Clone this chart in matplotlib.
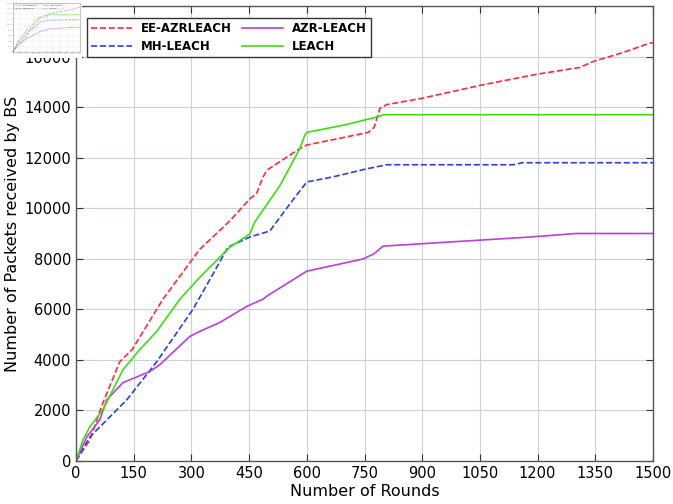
import matplotlib
matplotlib.use("Agg")
import matplotlib.pyplot as plt
from matplotlib.patches import Rectangle

ee_rounds = [0, 36, 70, 114, 146, 226, 322, 400, 452, 470, 485, 496, 582, 600, 680, 760, 775, 790, 808, 900, 1050, 1198, 1310, 1344, 1420, 1492, 1500]
ee_packets = [0, 830, 2300, 3930, 4410, 6400, 8380, 9500, 10370, 10600, 11200, 11500, 12360, 12500, 12750, 13000, 13200, 13950, 14100, 14350, 14860, 15300, 15570, 15800, 16150, 16530, 16550]

mh_rounds = [0, 36, 132, 210, 304, 360, 395, 452, 504, 556, 600, 668, 756, 808, 1136, 1160, 1500]
mh_packets = [0, 950, 2420, 3930, 6000, 7500, 8460, 8860, 9100, 10170, 11040, 11240, 11560, 11720, 11720, 11800, 11800]

azr_rounds = [0, 28, 62, 80, 122, 192, 218, 296, 322, 374, 444, 486, 496, 600, 746, 775, 798, 1180, 1300, 1500]
azr_packets = [0, 950, 1630, 2420, 3100, 3540, 3810, 4930, 5130, 5480, 6120, 6400, 6520, 7510, 7990, 8200, 8500, 8860, 9000, 9000]

leach_rounds = [0, 18, 36, 70, 122, 166, 210, 270, 322, 400, 452, 465, 530, 582, 595, 600, 700, 780, 800, 1500]
leach_packets = [0, 830, 1350, 2030, 3610, 4410, 5130, 6400, 7270, 8460, 8980, 9460, 10890, 12360, 12900, 13000, 13300, 13600, 13700, 13700]

x_ticks = list(range(0, 1501, 150))
y_ticks = list(range(0, 18001, 2000))

RED = "#ff2a3c"
BLUE = "#2b3fe6"
PURPLE = "#b83fe0"
GREEN = "#3fdc12"


def draw_curves(ax, lw, alpha=1.0):
    ax.plot(ee_rounds, ee_packets, "--", color=RED, lw=lw, alpha=alpha, label="EE-AZRLEACH")
    ax.plot(mh_rounds, mh_packets, "--", color=BLUE, lw=lw, alpha=alpha, label="MH-LEACH")
    ax.plot(azr_rounds, azr_packets, "-", color=PURPLE, lw=lw, alpha=alpha, label="AZR-LEACH")
    ax.plot(leach_rounds, leach_packets, "-", color=GREEN, lw=lw, alpha=alpha, label="LEACH")


fig = plt.figure(figsize=(6.73, 5.04), dpi=100)
ax = fig.add_axes([76 / 673, 43 / 504, 577 / 673, 455 / 504])

draw_curves(ax, 1.2)
ax.set_xlim(0, 1500)
ax.set_ylim(0, 18000)
ax.set_xticks(x_ticks)
ax.set_yticks(y_ticks)
ax.grid(True, color="#c9d3d6", lw=0.8)
ax.tick_params(direction="in", top=True, right=True, length=5, labelsize=10.5, color="#333333")
for s in ax.spines.values():
    s.set_color("#555555")
    s.set_linewidth(1.0)
ax.set_xlabel("Number of Rounds", fontsize=11.5, labelpad=2)
ax.set_ylabel("Number of Packets received by BS", fontsize=11.5, labelpad=3)

leg = ax.legend(ncol=2, loc="upper left", bbox_to_anchor=(0.019, 0.974), borderaxespad=0,
                fancybox=False, edgecolor="#333333", framealpha=1,
                prop={"weight": "bold", "size": 8.5}, handlelength=3.5, handletextpad=0.7,
                columnspacing=0.9, labelspacing=0.45, borderpad=0.35)
leg.get_frame().set_linewidth(1.0)

# small thumbnail of the chart in the top-left corner
fig.patches.append(Rectangle((0, 1 - 58 / 504), 82 / 673, 58 / 504, transform=fig.transFigure,
                             facecolor="white", edgecolor="none", zorder=10))
thumb = fig.add_axes([13 / 673, 1 - 52 / 504, 67 / 673, 49 / 504], zorder=11)
draw_curves(thumb, 0.5, alpha=0.55)
thumb.set_xlim(0, 1500)
thumb.set_ylim(0, 18000)
thumb.set_xticks(x_ticks)
thumb.set_yticks(y_ticks)
thumb.grid(True, color="#e4e8ea", lw=0.3)
thumb.tick_params(direction="in", length=1, pad=0.5, labelsize=1.3, width=0.3, colors="#888888")
for s in thumb.spines.values():
    s.set_color("#999999")
    s.set_linewidth(0.4)
tleg = thumb.legend(ncol=2, loc="upper left", prop={"size": 1.5}, fancybox=False,
                    edgecolor="#aaaaaa", handlelength=3, borderpad=0.3)
tleg.get_frame().set_linewidth(0.3)

fig.savefig("out.png", dpi=100)
